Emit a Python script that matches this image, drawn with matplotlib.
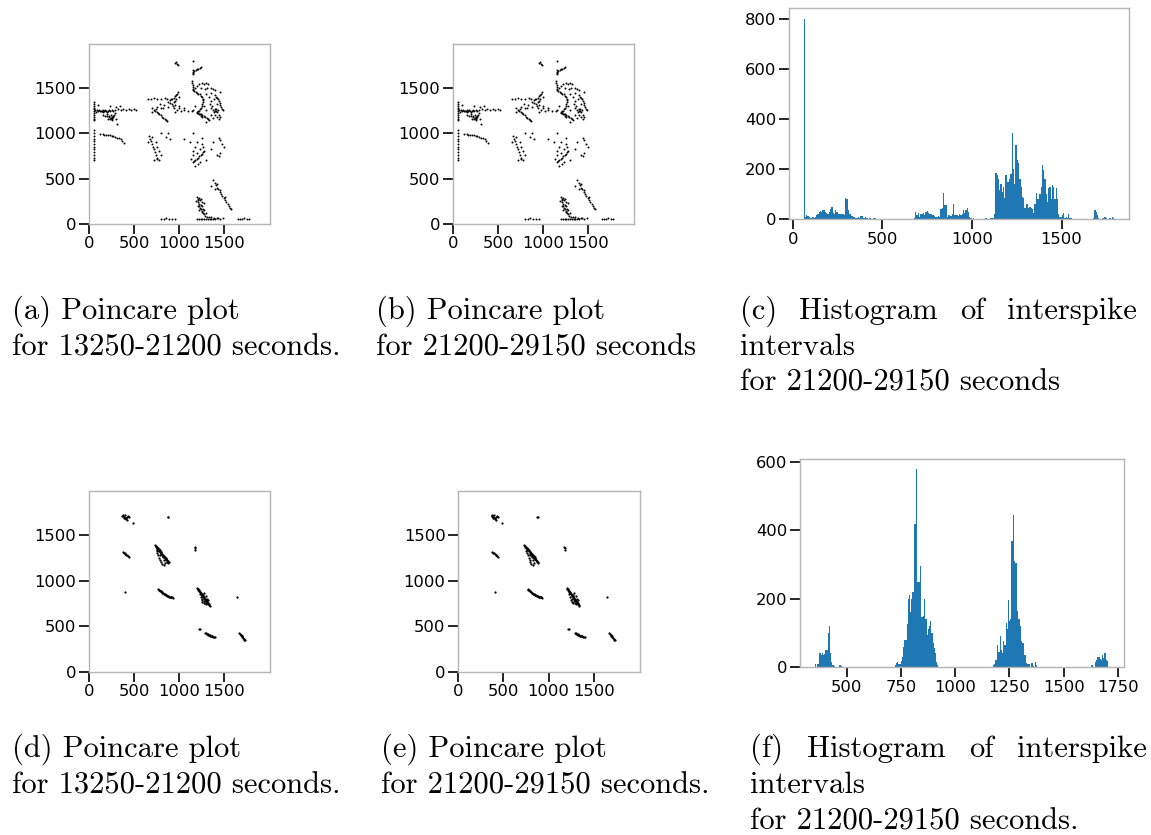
import numpy as np
import matplotlib
matplotlib.use("Agg")
import matplotlib.pyplot as plt

W, H = 1151, 835

# Interspike interval histogram (c): 250 bins, 7 ms wide, first edge 60 ms
hist_c_start = 60
hist_c_width = 7
hist_c_counts = [
    800, 10, 15, 14, 8, 3, 5, 8, 6, 10,
    15, 22, 28, 32, 30, 35, 35, 30, 25, 22,
    30, 40, 48, 25, 22, 35, 30, 22, 22, 20,
    22, 20, 18, 85, 82, 35, 20, 22, 12, 8,
    10, 6, 4, 8, 3, 12, 14, 6, 3, 8,
    4, 2, 3, 6, 2, 5, 6, 3, 1, 2,
    0, 2, 0, 0, 1, 0, 0, 0, 0, 0,
    0, 0, 0, 0, 1, 0, 0, 0, 0, 0,
    0, 0, 0, 0, 0, 0, 0, 2, 3, 30,
    15, 25, 8, 22, 20, 26, 18, 28, 33, 25,
    20, 22, 18, 15, 12, 10, 8, 12, 10, 42,
    45, 104, 55, 55, 10, 15, 18, 12, 20, 62,
    15, 18, 15, 12, 20, 15, 20, 35, 25, 38,
    45, 30, 8, 3, 2, 3, 2, 0, 0, 0,
    0, 0, 2, 0, 0, 3, 2, 0, 0, 3,
    3, 5, 20, 185, 175, 160, 115, 140, 110, 130,
    85, 175, 150, 150, 160, 180, 345, 200, 140, 295,
    235, 225, 160, 130, 90, 85, 45, 60, 60, 45,
    50, 45, 40, 25, 60, 105, 80, 80, 100, 130,
    215, 195, 160, 100, 70, 125, 130, 80, 135, 130,
    80, 125, 80, 20, 10, 8, 15, 25, 5, 8,
    3, 20, 5, 3, 0, 2, 0, 0, 0, 0,
    0, 0, 0, 0, 2, 0, 0, 0, 0, 0,
    2, 5, 35, 30, 15, 3, 2, 0, 3, 5,
    8, 3, 0, 2, 5, 0, 8, 3, 0, 0,
]

# Interspike interval histogram (f): 250 bins, 5.43 ms wide, first edge 352 ms
hist_f_start = 352
hist_f_width = 5.43
hist_f_counts = [
    8, 0, 8, 10, 40, 35, 40, 35, 38, 50,
    50, 100, 120, 40, 15, 5, 2, 0, 0, 0,
    0, 5, 3, 0, 0, 0, 0, 0, 0, 0,
    0, 0, 0, 0, 0, 0, 0, 0, 0, 0,
    0, 0, 0, 0, 0, 0, 0, 0, 0, 0,
    0, 0, 0, 0, 0, 0, 0, 0, 0, 0,
    0, 0, 0, 0, 0, 0, 0, 0, 5, 12,
    15, 8, 10, 18, 30, 60, 80, 80, 125, 200,
    210, 160, 200, 220, 420, 420, 580, 250, 250, 295,
    145, 145, 150, 200, 140, 95, 110, 120, 135, 100,
    70, 55, 40, 15, 5, 0, 0, 0, 0, 0,
    0, 0, 0, 0, 0, 0, 0, 0, 0, 0,
    0, 0, 0, 0, 0, 0, 0, 0, 0, 0,
    0, 0, 0, 0, 0, 0, 0, 0, 0, 0,
    0, 0, 0, 0, 0, 0, 0, 0, 0, 0,
    0, 5, 10, 20, 20, 65, 45, 90, 50, 40,
    75, 65, 130, 110, 195, 135, 140, 370, 445, 310,
    305, 305, 165, 140, 120, 75, 70, 70, 35, 12,
    10, 10, 8, 0, 12, 3, 0, 15, 5, 0,
    0, 0, 0, 0, 0, 0, 0, 0, 0, 0,
    0, 0, 0, 0, 0, 0, 0, 0, 0, 0,
    0, 0, 0, 0, 0, 0, 0, 0, 0, 0,
    0, 0, 0, 0, 0, 0, 0, 0, 0, 0,
    0, 0, 0, 0, 0, 5, 0, 0, 15, 20,
    30, 30, 22, 20, 35, 25, 40, 20, 18, 0,
]

# Poincare points (ISI_n, ISI_n+1) for the top row, (a) and (b)
top_pts = [
    # streak at x~55
    (55, 1340), (55, 1320), (55, 1300), (55, 1280), (55, 1260), (55, 1240), (55, 1220),
    (55, 1200), (55, 1180), (55, 1160), (55, 1140),
    (55, 1030), (55, 1000), (55, 970), (55, 940), (55, 910), (55, 880), (55, 850),
    (55, 820), (55, 790), (55, 760), (55, 730), (55, 700),
    # band y~1250
    (70, 1255), (90, 1250), (110, 1255), (130, 1245), (150, 1250), (170, 1245), (190, 1240),
    (210, 1245), (230, 1240), (250, 1250), (270, 1245), (290, 1250), (80, 1235), (120, 1240),
    (160, 1235), (200, 1230), (100, 1245), (140, 1238), (180, 1250), (220, 1252),
    (320, 1260), (350, 1255), (380, 1262), (410, 1258), (440, 1262), (470, 1255), (500, 1260),
    (520, 1255), (300, 1290), (340, 1300), (230, 1300), (100, 1310),
    # clump near (250, 1180)
    (160, 1200), (180, 1190), (200, 1185), (220, 1175), (240, 1170), (250, 1180), (260, 1165),
    (270, 1190), (280, 1200), (230, 1150), (210, 1160), (250, 1140), (260, 1155), (240, 1200),
    (200, 1210), (290, 1220), (300, 1150), (310, 1100), (225, 1190), (265, 1178),
    # line y~980
    (120, 990), (150, 985), (170, 980), (190, 982), (210, 978), (230, 975), (250, 972),
    (270, 968), (290, 960), (310, 950), (330, 945), (350, 930), (370, 910), (390, 890),
    # top specks
    (960, 1770), (975, 1760), (965, 1780), (985, 1750), (1155, 1790),
    (1150, 1650), (1160, 1665), (1170, 1680), (1185, 1690), (1200, 1700), (1215, 1710),
    (1230, 1720), (1245, 1730), (1150, 1670), (1160, 1690),
    # hooked curve from (1145, 1570) down to (1335, 1145)
    (1145, 1570), (1148, 1550), (1150, 1530), (1152, 1510), (1155, 1490), (1160, 1475),
    (1170, 1465), (1185, 1455), (1200, 1445), (1215, 1435), (1230, 1425), (1245, 1410),
    (1258, 1395), (1268, 1380), (1270, 1360), (1265, 1340), (1258, 1320), (1250, 1300),
    (1242, 1280), (1235, 1260), (1225, 1245), (1210, 1238), (1195, 1232), (1215, 1225),
    (1230, 1215), (1245, 1205), (1260, 1195), (1275, 1185), (1290, 1175), (1305, 1165),
    (1320, 1155), (1335, 1145), (1200, 1220), (1220, 1210), (1240, 1190), (1255, 1180),
    (1180, 1500), (1200, 1520), (1220, 1540), (1250, 1550), (1280, 1545), (1300, 1550),
    (1320, 1540), (1240, 1500), (1290, 1480), (1310, 1500), (1300, 1430), (1280, 1300),
    (1300, 1250), (1180, 1300), (1160, 1250), (1140, 1240), (1100, 1240), (1060, 1250),
    (1020, 1245),
    # right cluster
    (1400, 1420), (1410, 1400), (1420, 1385), (1430, 1370), (1440, 1350), (1450, 1330),
    (1460, 1310), (1470, 1290), (1480, 1270), (1485, 1255),
    (1400, 1260), (1410, 1240), (1420, 1230), (1430, 1250), (1390, 1230), (1380, 1250),
    (1400, 1200), (1420, 1180), (1440, 1160), (1360, 1280), (1370, 1300), (1350, 1200),
    (1440, 1200), (1460, 1180), (1380, 1170), (1415, 1265), (1395, 1245),
    (1350, 1500), (1380, 1480), (1400, 1470), (1360, 1440), (1390, 1380), (1360, 1350),
    (1420, 1320), (1340, 1320), (1330, 1400), (1450, 1450),
    # cluster (900-1000, 1300-1450)
    (880, 1345), (900, 1360), (920, 1375), (940, 1390), (955, 1405), (965, 1420),
    (975, 1435), (985, 1450), (900, 1330), (920, 1320), (940, 1340), (960, 1350),
    (930, 1300), (950, 1310), (910, 1380), (970, 1370), (1000, 1300), (980, 1250), (950, 1230),
    # descending line (720, 1250) -> (870, 1135)
    (720, 1250), (735, 1240), (750, 1228), (765, 1218), (780, 1205), (795, 1195), (810, 1180),
    (825, 1170), (840, 1155), (855, 1145), (870, 1135), (700, 1230), (740, 1270), (800, 1280),
    # sparse dotted rows
    (660, 1380), (690, 1380), (720, 1382), (760, 1380), (800, 1380), (840, 1382), (870, 1380),
    (700, 1280), (760, 1285), (820, 1280), (880, 1285), (940, 1280), (1000, 1275), (1060, 1280),
    (790, 1320), (830, 1310),
    # cluster (650-800, 700-1000)
    (670, 970), (680, 940), (690, 910), (700, 880), (710, 850), (720, 820), (730, 790),
    (740, 760), (750, 730), (760, 715), (780, 700), (700, 960), (740, 900), (760, 850),
    (780, 800), (800, 760), (720, 700), (660, 900), (800, 1000), (860, 960), (880, 1000), (900, 940),
    # cluster (1150-1300, 650-900)
    (1150, 680), (1165, 690), (1180, 700), (1195, 715), (1210, 730), (1225, 745), (1240, 760),
    (1255, 775), (1270, 790), (1280, 805), (1150, 800), (1180, 850), (1200, 900), (1250, 880),
    (1270, 850), (1230, 820), (1160, 760), (1200, 780), (1130, 720), (1300, 700), (1230, 680),
    (1260, 950), (1180, 640), (1210, 660),
    (1440, 950), (1460, 920), (1480, 880), (1500, 850), (1420, 760), (1440, 750), (1460, 780),
    (1380, 900), (1350, 820), (1120, 900), (1050, 930), (1160, 1000), (1300, 1120), (1000, 1400),
    # descending line (1380, 480) -> (1580, 165)
    (1380, 480), (1395, 450), (1410, 425), (1420, 400), (1435, 380), (1450, 355), (1465, 330),
    (1480, 305), (1495, 285), (1510, 265), (1525, 245), (1540, 225), (1555, 200), (1570, 180),
    (1580, 165), (1400, 390), (1420, 440), (1460, 370), (1510, 300), (1350, 420),
    # curve (1200, 300) -> (1420, 70)
    (1200, 300), (1205, 280), (1210, 260), (1215, 240), (1220, 220), (1225, 200), (1232, 180),
    (1240, 160), (1250, 140), (1262, 120), (1275, 105), (1290, 92), (1310, 82), (1330, 75),
    (1360, 72), (1390, 70), (1420, 70), (1230, 260), (1250, 240), (1240, 280), (1260, 200),
    (1270, 170), (1280, 150), (1220, 150), (1210, 200), (1245, 210), (1255, 130), (1300, 120),
    (1280, 230), (1190, 250), (1225, 290),
    # bottom rows y~60
    (800, 60), (830, 60), (860, 62), (890, 60), (920, 60), (950, 60),
    (1200, 60), (1220, 60), (1240, 60), (1260, 60), (1280, 60), (1300, 60), (1320, 60),
    (1340, 60), (1360, 60), (1380, 60), (1400, 60), (1430, 62), (1460, 60), (1490, 62),
    (1650, 60), (1680, 60), (1700, 60), (1720, 62), (1750, 60), (1780, 60),
]

# Poincare points for the bottom row, (d) and (e)
bot_pts = [
    (370, 1710), (380, 1705), (390, 1700), (400, 1715), (410, 1690), (420, 1700), (400, 1680),
    (410, 1670), (390, 1690), (430, 1705), (380, 1720), (420, 1660), (440, 1700), (485, 1630),
    (875, 1700), (878, 1695),
    (375, 1315), (385, 1307), (395, 1300), (405, 1292), (415, 1283), (425, 1275), (435, 1268),
    (440, 1263),
    (730, 1385), (740, 1372), (750, 1360), (760, 1347), (770, 1334), (780, 1321), (790, 1309),
    (800, 1296), (810, 1283), (820, 1271), (830, 1258), (840, 1245), (850, 1233), (860, 1220),
    (870, 1207), (880, 1195),
    (745, 1380), (755, 1368), (765, 1355), (775, 1342), (785, 1330), (795, 1317), (805, 1304),
    (815, 1291), (825, 1278), (835, 1266), (845, 1253), (855, 1240), (865, 1228), (875, 1215),
    (885, 1203),
    (760, 1300), (780, 1250), (790, 1230), (800, 1200), (810, 1180), (770, 1280), (750, 1320),
    (820, 1260), (830, 1230), (800, 1310), (790, 1280), (840, 1190), (760, 1340), (850, 1250),
    (830, 1170),
    (1175, 1370), (1178, 1355), (1180, 1340), (405, 873),
    (770, 905), (780, 898), (790, 890), (800, 882), (810, 873), (820, 865), (830, 857),
    (840, 850), (850, 843), (860, 837), (870, 831), (880, 826), (890, 822), (900, 819),
    (910, 816), (920, 815), (930, 814),
    (775, 900), (795, 885), (815, 868), (835, 852), (855, 839), (875, 828), (895, 820), (915, 815),
    (1200, 920), (1210, 906), (1220, 892), (1230, 878), (1240, 864), (1250, 850), (1260, 836),
    (1270, 822), (1280, 808), (1290, 795), (1300, 781), (1310, 767), (1320, 753), (1330, 739),
    (1340, 725),
    (1205, 910), (1215, 898), (1225, 885), (1235, 870), (1245, 855), (1255, 843), (1265, 828),
    (1275, 815), (1285, 800), (1295, 787), (1305, 773), (1315, 760), (1325, 745), (1335, 732),
    (1240, 820), (1260, 800), (1280, 780), (1290, 760), (1250, 790), (1270, 840), (1300, 830),
    (1310, 800), (1230, 850), (1280, 860), (1260, 770), (1320, 790), (1300, 740), (1275, 750),
    (1645, 815), (1220, 475), (1230, 468),
    (1290, 430), (1300, 425), (1310, 418), (1320, 412), (1330, 405), (1340, 400), (1350, 396),
    (1360, 392), (1370, 389), (1380, 386), (1390, 384), (1400, 382),
    (1305, 420), (1325, 408), (1345, 398), (1365, 390),
    (1670, 425), (1680, 415), (1688, 405), (1695, 395), (1702, 385), (1710, 375), (1718, 365),
    (1725, 355), (1730, 348), (1685, 410), (1700, 390),
]

captions_top = [
    ["(a) Poincare plot", "for 13250-21200 seconds."],
    ["(b) Poincare plot", "for 21200-29150 seconds"],
    ["intervals", "for 21200-29150 seconds"],
]
captions_bot = [
    ["(d) Poincare plot", "for 13250-21200 seconds."],
    ["(e) Poincare plot", "for 21200-29150 seconds."],
    ["intervals", "for 21200-29150 seconds."],
]


def px_axes(left, top, right, bottom):
    return fig.add_axes([left / W, 1 - bottom / H, (right - left) / W, (bottom - top) / H])


def style(ax):
    for s in ax.spines.values():
        s.set_color("#b5b5b5")
        s.set_linewidth(1.0)
    ax.tick_params(length=7, width=1.2, color="black", labelsize=11.8, pad=2)
    ax.tick_params(top=False, right=False)


def poincare(ax, pts, size):
    xs, ys = zip(*pts)
    ax.scatter(xs, ys, s=size, c="black", linewidths=0)
    ax.set_xlim(0, 2010)
    ax.set_ylim(0, 1980)
    ax.set_xticks([0, 500, 1000, 1500])
    ax.set_yticks([0, 500, 1000, 1500])
    style(ax)


def histo(ax, start, width, counts):
    edges = np.linspace(start, start + width * len(counts), len(counts) + 1)
    ax.hist(edges[:-1], bins=edges, weights=counts, color="#1f77b4",
            histtype="stepfilled", linewidth=0)
    style(ax)


fig = plt.figure(figsize=(W / 100, H / 100), dpi=100)

ax_a = px_axes(89, 44, 270, 224)
poincare(ax_a, top_pts, 2.0)
ax_b = px_axes(453, 44, 634, 224)
poincare(ax_b, top_pts, 2.0)
ax_d = px_axes(89, 491, 270, 672)
poincare(ax_d, bot_pts, 2.6)
ax_e = px_axes(458, 491, 640, 672)
poincare(ax_e, bot_pts, 2.6)

ax_c = px_axes(789, 8, 1129, 219)
histo(ax_c, hist_c_start, hist_c_width, hist_c_counts)
ax_c.set_xlim(-22, 1877)
ax_c.set_ylim(0, 844)
ax_c.set_xticks([0, 500, 1000, 1500])
ax_c.set_yticks([0, 200, 400, 600, 800])

ax_f = px_axes(800, 459, 1124, 667)
histo(ax_f, hist_f_start, hist_f_width, hist_f_counts)
ax_f.set_xlim(284, 1778)
ax_f.set_ylim(0, 609)
ax_f.set_xticks([500, 750, 1000, 1250, 1500, 1750])
ax_f.set_yticks([0, 200, 400, 600])

# captions
cap = dict(family="cmr10", fontsize=22, color="black", va="baseline")
LINE = 36


def put(x, y, s, ha="left"):
    return fig.text(x / W, 1 - y / H, s, ha=ha, **cap)


for (x0, base), lines in zip([(12, 319), (376, 319)], captions_top[:2]):
    for i, line in enumerate(lines):
        put(x0, base + LINE * i, line)
for (x0, base), lines in zip([(12, 757), (381, 757)], captions_bot[:2]):
    for i, line in enumerate(lines):
        put(x0, base + LINE * i, line)

# justified first line of the histogram captions: equal gaps between words
renderer = fig.canvas.get_renderer()
for x0, x_end, base, lab, lines in [(740, 1137, 319, "(c)", captions_top[2]),
                                    (750, 1147, 757, "(f)", captions_bot[2])]:
    words = [lab, "Histogram", "of", "interspike"]
    arts = [put(x0, base, w) for w in words]
    widths = [a.get_window_extent(renderer).width for a in arts]
    gap = (x_end - x0 - sum(widths)) / (len(words) - 1)
    x = x0
    for a, w in zip(arts, widths):
        a.set_x(x / W)
        x += w + gap
    for i, line in enumerate(lines):
        put(x0, base + LINE * (i + 1), line)

fig.savefig("out.png", dpi=100)
